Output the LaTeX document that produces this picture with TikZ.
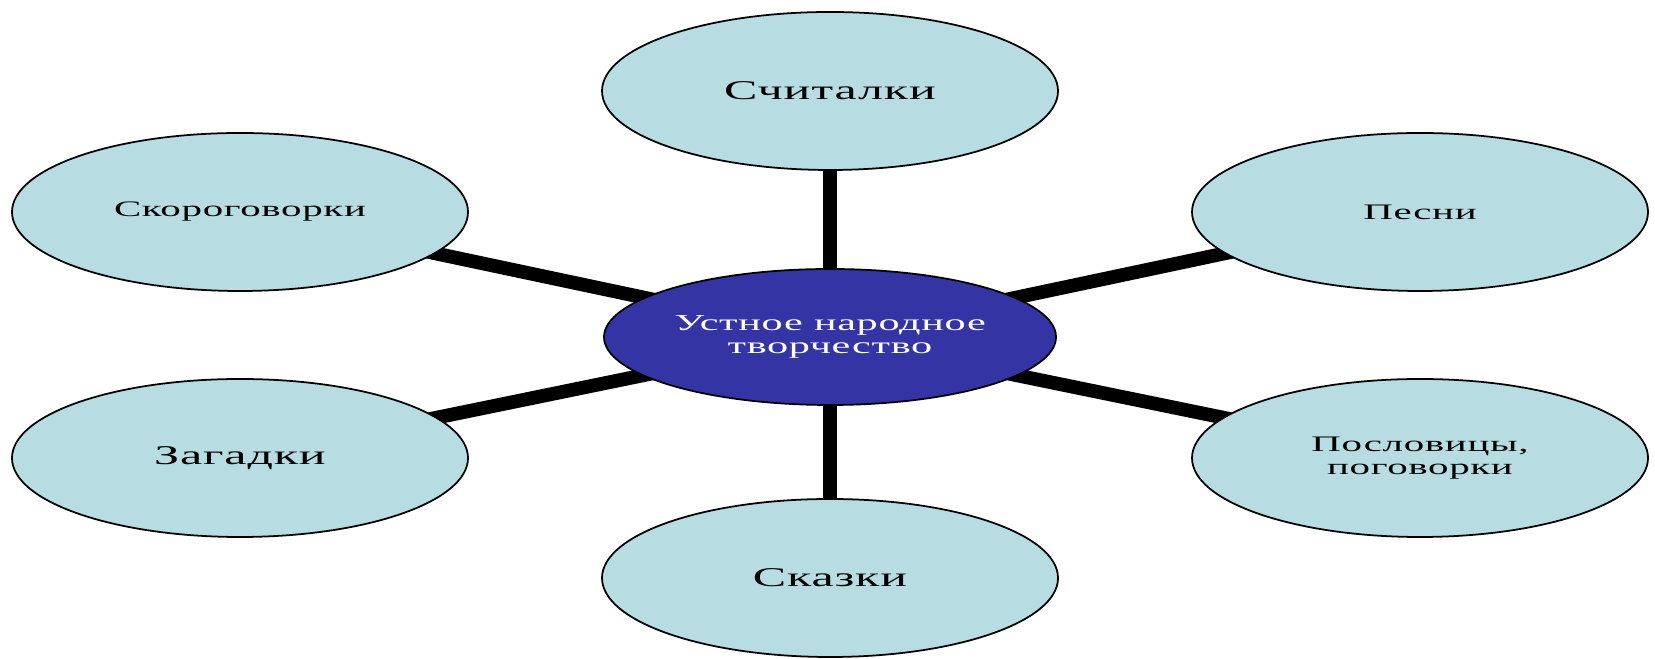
\documentclass[tikz,border=0pt]{standalone}
\usepackage{fontspec}
\setmainfont{Liberation Serif}[FakeStretch=1.85,LetterSpace=3]
\usetikzlibrary{shapes.geometric,backgrounds}
\definecolor{lightcyan}{RGB}{183,221,226}
\definecolor{darkblue}{RGB}{52,52,165}
\begin{document}
\begin{tikzpicture}[line join=round,line cap=butt,
	bubble/.style={ellipse,draw=black,line width=0.5pt,fill=lightcyan,inner sep=0pt,
		minimum width=4.56cm,minimum height=1.58cm,align=center},
	bigtext/.style={font=\fontsize{7.7}{8.5}\selectfont},
	smalltext/.style={font=\fontsize{6.3}{6.6}\selectfont},
	hub/.style={bubble,fill=darkblue,text=white,minimum width=4.52cm,minimum height=1.36cm},
	spoke/.style={line width=3.9pt,black}]
	\useasboundingbox (0,0) rectangle (16.55,6.59);
	%Центр
	\node[hub,font=\fontsize{6.5}{6.8}\selectfont] (hub) at (8.30,3.22) {Устное народное\\творчество};
	%Верх, низ
	\node[bubble,bigtext] (counting) at (8.30,5.68) {Считалки};
	\node[bubble,bigtext] (tales) at (8.30,0.81) {Сказки};
	%Слева
	\node[bubble,smalltext] (twisters) at (2.40,4.47) {Скороговорки};
	\node[bubble,bigtext] (riddles) at (2.40,2.01) {Загадки};
	%Справа
	\node[bubble,smalltext] (songs) at (14.20,4.47) {Песни};
	\node[bubble,smalltext] (proverbs) at (14.20,2.01) {Пословицы,\\поговорки};
	%Линии
	\begin{scope}[on background layer]
		\foreach \n in {counting,tales,twisters,riddles,songs,proverbs}
			\draw[spoke] (hub.center)--(\n.center);
	\end{scope}
\end{tikzpicture}
\end{document}
